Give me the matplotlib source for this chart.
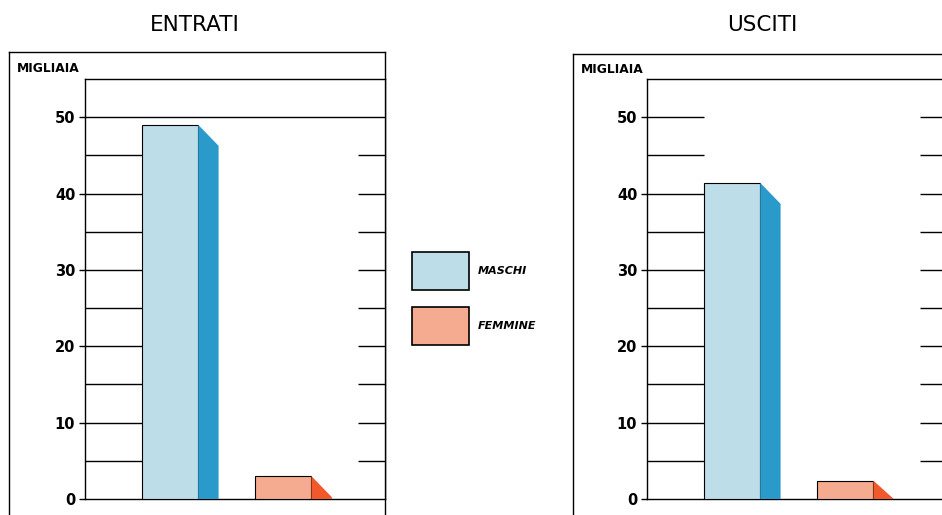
import matplotlib
matplotlib.use('Agg')
import matplotlib.pyplot as plt
from matplotlib.patches import Polygon, Patch

plt.rcParams['font.family'] = ['DejaVu Sans']

# data (migliaia)
panels = ['ENTRATI', 'USCITI']
categories = ['MASCHI', 'FEMMINE']
entrati = [49.0, 3.0]
usciti = [41.4, 2.4]
yticks = [0, 10, 20, 30, 40, 50]
minor_lines = [5, 10, 15, 20, 25, 30, 35, 40, 45, 50]

front_colors = ['#bddde8', '#f5ab8f']
side_colors = ['#2a9acb', '#f1582c']

W, H = 942, 515
fig = plt.figure(figsize=(W / 100, H / 100), dpi=100)

def fx(px):
    return px / W

def fy(py):
    return 1 - py / H

def draw_panel(values, outer_left, outer_top, inner_left, title, title_x, full_top_line):
    # outer frame
    box = fig.add_axes([fx(outer_left), -0.1, fx(385 - 9), fy(outer_top) + 0.1])
    box.set_xticks([])
    box.set_yticks([])
    for s in box.spines.values():
        s.set_linewidth(1.0)
    box.patch.set_alpha(0)
    fig.text(fx(outer_left + 8), fy(outer_top + 16), 'MIGLIAIA', fontsize=8.8,
             fontweight='bold', ha='left', va='center')

    fig.text(fx(title_x), fy(25), title, fontsize=15.5, ha='center', va='center')

    ax = fig.add_axes([fx(inner_left), fy(499), fx(300), fy(79) - fy(499)])
    ax.set_xlim(-0.75, 1.9)
    ax.set_ylim(0, 55)
    for s in ax.spines.values():
        s.set_linewidth(1.0)

    pos = list(range(len(values)))
    width = 0.5
    dx, dy = 0.18, 2.75
    bars = ax.bar(pos, values, width=width, color=front_colors,
                  edgecolor='black', linewidth=0.8, zorder=3)
    for i, rect in enumerate(bars):
        x1 = rect.get_x() + rect.get_width()
        h = rect.get_height()
        side = Polygon([(x1, 0), (x1, h), (x1 + dx, max(h - dy, 0)), (x1 + dx, 0)],
                       closed=True, facecolor=side_colors[i], edgecolor='none', zorder=3)
        ax.add_patch(side)

    # guide lines: left of first bar and short marks at right edge
    left_end = pos[0] - width / 2
    xmin, xmax = ax.get_xlim()
    for v in minor_lines:
        if v == 50 and full_top_line:
            ax.hlines(v, xmin, xmax, color='black', linewidth=1.0)
            continue
        ax.hlines(v, xmin, left_end, color='black', linewidth=1.0)
        ax.hlines(v, xmax - 0.24, xmax, color='black', linewidth=1.0)

    ax.set_yticks(yticks)
    ax.set_yticklabels([str(t) for t in yticks], fontsize=10.5, fontweight='bold')
    ax.tick_params(axis='y', length=4, width=1.0, pad=3)
    ax.set_xticks([])
    return ax

draw_panel(entrati, 9, 52, 85, panels[0], 195, True)
draw_panel(usciti, 573, 54, 647, panels[1], 762, False)

handles = [Patch(facecolor=front_colors[i], edgecolor='black', linewidth=1.2)
           for i in range(len(categories))]
fig.legend(handles, categories, loc='upper left', bbox_to_anchor=(fx(406), fy(246)),
           frameon=False, borderpad=0, handlelength=5.2, handleheight=5.0,
           labelspacing=1.45, handletextpad=0.8,
           prop={'size': 8, 'weight': 'bold', 'style': 'italic'})

fig.savefig('out.png', dpi=100, facecolor='white')
